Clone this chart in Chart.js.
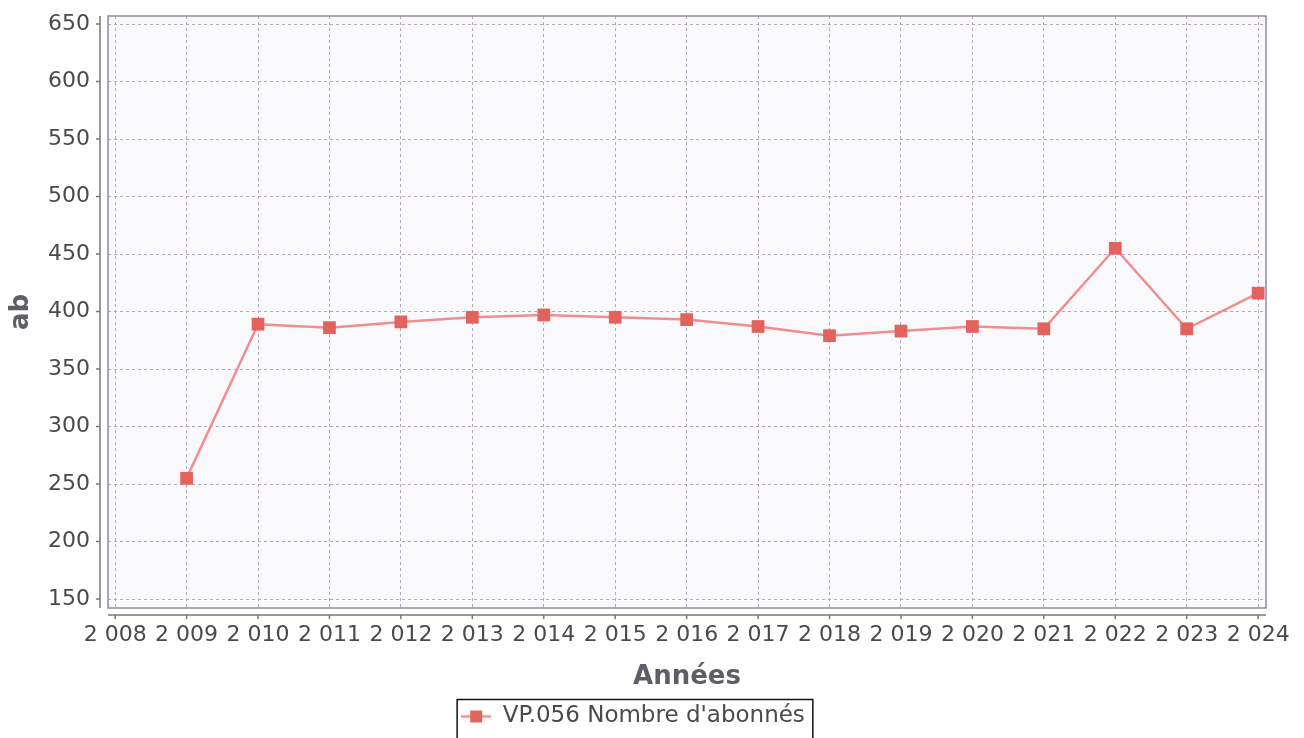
<!DOCTYPE html>
<html>
<head>
<meta charset="utf-8">
<script src="https://cdn.jsdelivr.net/npm/chart.js@4/dist/chart.umd.min.js"></script>
<style>
html, body { margin: 0; padding: 0; background: #fff; }
</style>
</head>
<body>
<canvas id="line-chart" width="1304" height="738"></canvas>
<script>
//subscribers per year
var years = [2009, 2010, 2011, 2012, 2013, 2014, 2015, 2016, 2017, 2018, 2019, 2020, 2021, 2022, 2023, 2024];
var abonnes = [255, 389, 386, 391, 395, 397, 395, 393, 387, 379, 383, 387, 385, 455, 385, 416];

//axis ticks
var xTicks = [2008, 2009, 2010, 2011, 2012, 2013, 2014, 2015, 2016, 2017, 2018, 2019, 2020, 2021, 2022, 2023, 2024];
var yTicks = [150, 200, 250, 300, 350, 400, 450, 500, 550, 600, 650];

var seriesLabel = "VP.056 Nombre d'abonnés";

var lineColor = '#ef8e8e';
var pointColor = '#e2625e';
var gridColor = '#b7a7bd';
var textColor = '#4a4a4a';
var fontFamily = "'DejaVu Sans', sans-serif";

//french style thousands: 2 008
function frNumber(v) {
    return String(v).replace(/\B(?=(\d{3})+(?!\d))/g, ' ');
}

//legend symbol: little line with a square on it
var legendIcon = document.createElement('canvas');
legendIcon.width = 30;
legendIcon.height = 14;
var ic = legendIcon.getContext('2d');
ic.strokeStyle = lineColor;
ic.lineWidth = 2.5;
ic.beginPath();
ic.moveTo(0, 7);
ic.lineTo(30, 7);
ic.stroke();
ic.fillStyle = pointColor;
ic.fillRect(9, 1, 12, 12);

var framePlugin = {
    id: 'frame',
    beforeDraw: function (chart) {
        var ctx = chart.ctx, ca = chart.chartArea;
        ctx.save();
        ctx.fillStyle = '#f9f9fc';
        ctx.fillRect(ca.left, ca.top, ca.right - ca.left, ca.bottom - ca.top);
        ctx.restore();
    },
    afterDraw: function (chart) {
        var ctx = chart.ctx, ca = chart.chartArea;
        var xs = chart.scales.x, ys = chart.scales.y;
        ctx.save();
        //plot frame
        ctx.strokeStyle = '#8c8c9c';
        ctx.lineWidth = 1.5;
        ctx.strokeRect(ca.left, ca.top, ca.right - ca.left, ca.bottom - ca.top);

        //detached axis lines with tick marks
        ctx.strokeStyle = '#777';
        ctx.lineWidth = 1.5;
        var ax = ca.left - 8, ay = ca.bottom + 7;
        ctx.beginPath();
        ctx.moveTo(ax, ca.top);
        ctx.lineTo(ax, ca.bottom);
        ctx.moveTo(ca.left, ay);
        ctx.lineTo(ca.right, ay);
        yTicks.forEach(function (v) {
            var py = ys.getPixelForValue(v);
            ctx.moveTo(ax - 4, py);
            ctx.lineTo(ax, py);
        });
        xTicks.forEach(function (v) {
            var px = xs.getPixelForValue(v);
            ctx.moveTo(px, ay);
            ctx.lineTo(px, ay + 4);
        });
        ctx.stroke();

        //box round the legend
        var hb = chart.legend.legendHitBoxes[0];
        if (hb) {
            var cy = hb.top + hb.height / 2;
            ctx.strokeStyle = '#111';
            ctx.lineWidth = 1.5;
            ctx.strokeRect(hb.left - 4, cy - 17, hb.width + 12, 40);
        }
        ctx.restore();
    }
};

var ctx = document.getElementById('line-chart');

var myChart = new Chart(ctx, {
    type: 'line',
    data: {
        datasets: [{
            label: seriesLabel,
            data: years.map(function (y, i) { return { x: y, y: abonnes[i] }; }),
            borderColor: lineColor,
            borderWidth: 2.5,
            backgroundColor: pointColor,
            pointBackgroundColor: pointColor,
            pointBorderColor: pointColor,
            pointBorderWidth: 0,
            pointStyle: 'rect',
            pointRadius: 9,
            tension: 0,
            fill: false
        }]
    },
    options: {
        responsive: false,
        devicePixelRatio: 1,
        animation: false,
        layout: { padding: { top: 16, right: 38, left: 0, bottom: 0 } },
        plugins: {
            tooltip: { enabled: false },
            legend: {
                position: 'bottom',
                labels: {
                    color: textColor,
                    font: { family: fontFamily, size: 23 },
                    usePointStyle: true,
                    pointStyleWidth: 30,
                    boxHeight: 14,
                    padding: 8,
                    generateLabels: function (chart) {
                        return [{
                            text: seriesLabel,
                            fillStyle: pointColor,
                            strokeStyle: lineColor,
                            fontColor: textColor,
                            pointStyle: legendIcon,
                            lineWidth: 0,
                            datasetIndex: 0,
                            hidden: false
                        }];
                    }
                }
            }
        },
        scales: {
            x: {
                type: 'linear',
                min: 2007.9,
                max: 2024.11,
                afterBuildTicks: function (scale) {
                    scale.ticks = xTicks.map(function (v) { return { value: v }; });
                },
                afterFit: function (scale) {
                    scale.height = 738 - 608 - scale.chart.legend.height;
                },
                ticks: {
                    autoSkip: false,
                    maxRotation: 0,
                    padding: 14,
                    color: textColor,
                    font: { family: fontFamily, size: 22 },
                    callback: function (v) { return frNumber(v); }
                },
                grid: { color: gridColor, lineWidth: 1, drawTicks: false },
                border: { display: false, dash: [3, 3] },
                title: {
                    display: true,
                    text: 'Années',
                    color: '#5e5e66',
                    font: { family: fontFamily, size: 26, weight: 'bold' },
                    padding: { top: 0, bottom: 4 }
                }
            },
            y: {
                type: 'linear',
                min: 142.2,
                max: 657,
                afterBuildTicks: function (scale) {
                    scale.ticks = yTicks.map(function (v) { return { value: v }; });
                },
                afterFit: function (scale) {
                    scale.width = 108;
                    scale.paddingTop = 0;
                    scale.paddingBottom = 0;
                },
                ticks: {
                    padding: 18,
                    color: textColor,
                    font: { family: fontFamily, size: 22 }
                },
                grid: { color: gridColor, lineWidth: 1, drawTicks: false },
                border: { display: false, dash: [3, 3] },
                title: {
                    display: true,
                    text: 'ab',
                    color: '#5e5e66',
                    font: { family: fontFamily, size: 26, weight: 'bold' },
                    padding: { top: 6, bottom: 0 }
                }
            }
        }
    },
    plugins: [framePlugin]
});
</script>
</body>
</html>
